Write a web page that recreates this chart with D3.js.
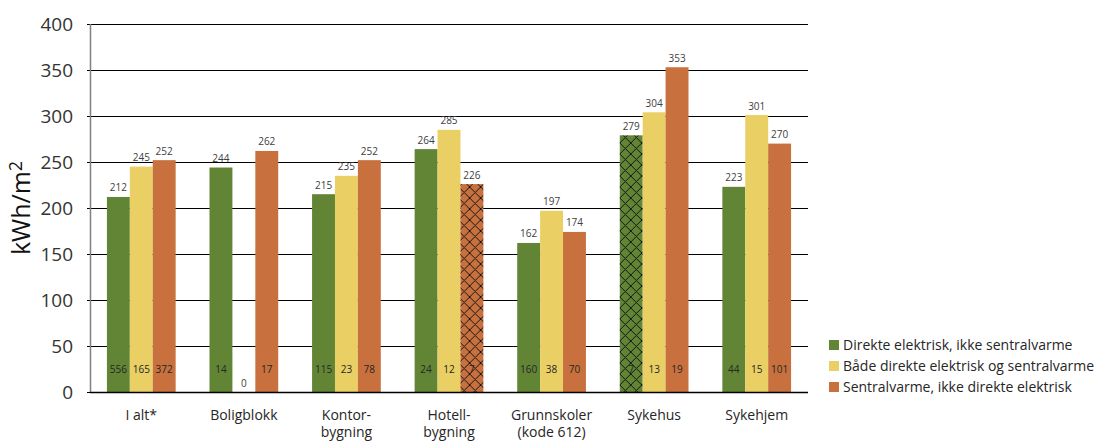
<!DOCTYPE html>
<html>
<head>
<meta charset="utf-8">
<script src="https://cdn.jsdelivr.net/npm/d3@7"></script>
<style>
  body { margin: 0; background: #fff; }
  text { font-family: "Open Sans", "Noto Sans", sans-serif; }
</style>
</head>
<body>
<div id="container"></div>
<script>
// chart data
const categories = ["I alt*", "Boligblokk", "Kontor-|bygning", "Hotell-|bygning", "Grunnskoler|(kode 612)", "Sykehus", "Sykehjem"];
const seriesNames = ["Direkte elektrisk, ikke sentralvarme", "Både direkte elektrisk og sentralvarme", "Sentralvarme, ikke direkte elektrisk"];
const direkte = [212, 244, 215, 264, 162, 279, 223];
const begge = [245, 0, 235, 285, 197, 304, 301];
const sentral = [252, 262, 252, 226, 174, 353, 270];
const nDirekte = [556, 14, 115, 24, 160, 7, 44];
const nBegge = [165, null, 23, 12, 38, 13, 15];
const nSentral = [372, 17, 78, 7, 70, 19, 101];
const yTicks = [0, 50, 100, 150, 200, 250, 300, 350, 400];

const colors = ["#628535", "#e9cf64", "#c8713e"];
const values = [direkte, begge, sentral];
const counts = [nDirekte, nBegge, nSentral];

const width = 1106, height = 442;
const plotLeft = 90, plotRight = 808, plotTop = 24, plotBottom = 392;

const svg = d3.select("#container")
  .append("svg")
  .attr("width", width)
  .attr("height", height);

// hatch patterns for small samples (n < 10)
const defs = svg.append("defs");
const hp = 11;
colors.forEach((c, i) => {
  const p = defs.append("pattern")
    .attr("id", "hatch" + i)
    .attr("patternUnits", "userSpaceOnUse")
    .attr("width", hp)
    .attr("height", hp);
  p.append("rect").attr("width", hp).attr("height", hp).attr("fill", c);
  p.append("path")
    .attr("d", `M0,0 L${hp},${hp} M${hp},0 L0,${hp}`)
    .attr("stroke", "#151515")
    .attr("stroke-width", 1);
});

const y = d3.scaleLinear().domain([0, 400]).range([plotBottom, plotTop]);
const x0 = d3.scaleBand().domain(d3.range(categories.length)).range([plotLeft, plotRight])
  .paddingInner(0.33).paddingOuter(0.165);
const x1 = d3.scaleBand().domain([0, 1, 2]).range([0, x0.bandwidth()]);

// gridlines
svg.append("g")
  .selectAll("line")
  .data(yTicks)
  .enter()
  .append("line")
  .attr("x1", plotLeft - 3)
  .attr("x2", plotRight)
  .attr("y1", d => Math.round(y(d)) + 0.5)
  .attr("y2", d => Math.round(y(d)) + 0.5)
  .attr("stroke", "#000")
  .attr("stroke-width", 1);

// y tick labels
svg.append("g")
  .selectAll("text")
  .data(yTicks)
  .enter()
  .append("text")
  .attr("x", 73)
  .attr("y", d => y(d))
  .attr("dy", "0.35em")
  .attr("text-anchor", "end")
  .attr("font-size", "19px")
  .attr("fill", "#333")
  .text(d => d);

// y axis line
svg.append("line")
  .attr("x1", plotLeft + 0.5).attr("x2", plotLeft + 0.5)
  .attr("y1", plotTop).attr("y2", plotBottom)
  .attr("stroke", "#808080")
  .attr("stroke-width", 1.5);

// y title
const yt = svg.append("text")
  .attr("transform", "translate(30,208) rotate(-90)")
  .attr("text-anchor", "middle")
  .attr("font-size", "25px")
  .attr("fill", "#111");
yt.append("tspan").text("kWh/m");
yt.append("tspan").attr("font-size", "18px").attr("dy", "-8").text("2");

// bars
const groups = svg.append("g")
  .selectAll("g")
  .data(categories)
  .enter()
  .append("g")
  .attr("transform", (d, i) => `translate(${x0(i)},0)`);

groups.each(function(cat, gi) {
  const g = d3.select(this);
  [0, 1, 2].forEach(s => {
    const v = values[s][gi];
    const n = counts[s][gi];
    g.append("rect")
      .attr("x", x1(s))
      .attr("y", y(v))
      .attr("width", x1.bandwidth())
      .attr("height", plotBottom - y(v))
      .attr("fill", n !== null && n < 10 ? `url(#hatch${s})` : colors[s]);
    g.append("text")
      .attr("x", x1(s) + x1.bandwidth() / 2)
      .attr("y", y(v) - 9)
      .attr("dy", "0.35em")
      .attr("text-anchor", "middle")
      .attr("font-size", "10px")
      .attr("fill", "#404040")
      .text(v);
    if (n !== null) {
      g.append("text")
        .attr("x", x1(s) + x1.bandwidth() / 2)
        .attr("y", 369)
        .attr("dy", "0.35em")
        .attr("text-anchor", "middle")
        .attr("font-size", "10px")
        .attr("fill", "#262626")
        .text(n);
    }
  });
});

// baseline
svg.append("line")
  .attr("x1", plotLeft).attr("x2", plotRight)
  .attr("y1", plotBottom + 0.5).attr("y2", plotBottom + 0.5)
  .attr("stroke", "#000")
  .attr("stroke-width", 1.5);

// x labels
svg.append("g")
  .selectAll("text")
  .data(categories)
  .enter()
  .append("text")
  .attr("text-anchor", "middle")
  .attr("font-size", "14px")
  .attr("fill", "#262626")
  .each(function(d, i) {
    const t = d3.select(this);
    d.split("|").forEach((line, k) => {
      t.append("tspan")
        .attr("x", x0(i) + x0.bandwidth() / 2)
        .attr("y", 420 + k * 17)
        .text(line);
    });
  });

// legend
const legend = svg.append("g").attr("id", "legend");
seriesNames.forEach((name, i) => {
  const ly = 345 + i * 21;
  legend.append("rect")
    .attr("x", 829).attr("y", ly - 5)
    .attr("width", 10).attr("height", 10)
    .attr("fill", colors[i]);
  legend.append("text")
    .attr("x", 843).attr("y", ly)
    .attr("dy", "0.35em")
    .attr("font-size", "14px")
    .attr("fill", "#262626")
    .text(name);
});
</script>
</body>
</html>
